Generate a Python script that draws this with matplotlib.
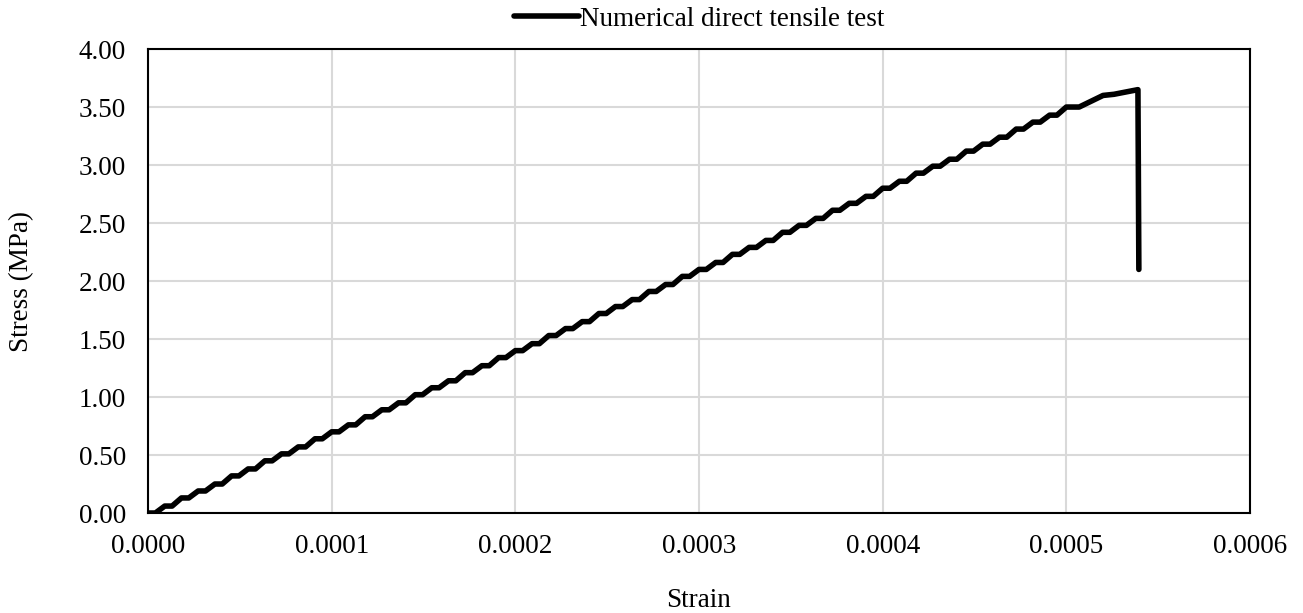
import numpy as np
import matplotlib
matplotlib.use('Agg')
import matplotlib.pyplot as plt

# strain in microstrain, stress in MPa (step corners)
strain_ue = [0.0, 4.0, 9.1, 13.1, 18.2, 22.2, 27.3, 31.3, 36.4, 40.4,
             45.5, 49.5, 54.5, 58.5, 63.6, 67.6, 72.7, 76.7, 81.8, 85.8,
             90.9, 94.9, 100.0, 104.0, 109.1, 113.1, 118.2, 122.2, 127.3, 131.3,
             136.4, 140.4, 145.5, 149.5, 154.5, 158.5, 163.6, 167.6, 172.7, 176.7,
             181.8, 185.8, 190.9, 194.9, 200.0, 204.0, 209.1, 213.1, 218.2, 222.2,
             227.3, 231.3, 236.4, 240.4, 245.5, 249.5, 254.5, 258.5, 263.6, 267.6,
             272.7, 276.7, 281.8, 285.8, 290.9, 294.9, 300.0, 304.0, 309.1, 313.1,
             318.2, 322.2, 327.3, 331.3, 336.4, 340.4, 345.5, 349.5, 354.5, 358.5,
             363.6, 367.6, 372.7, 376.7, 381.8, 385.8, 390.9, 394.9, 400.0, 404.0,
             409.1, 413.1, 418.2, 422.2, 427.3, 431.3, 436.4, 440.4, 445.5, 449.5,
             454.5, 458.5, 463.6, 467.6, 472.7, 476.7, 481.8, 485.8, 490.9, 494.9,
             500.0, 507.0, 520.0, 526.0, 539.0, 539.5]
stress = [0.00, 0.00, 0.06, 0.06, 0.13, 0.13, 0.19, 0.19, 0.25, 0.25,
          0.32, 0.32, 0.38, 0.38, 0.45, 0.45, 0.51, 0.51, 0.57, 0.57,
          0.64, 0.64, 0.70, 0.70, 0.76, 0.76, 0.83, 0.83, 0.89, 0.89,
          0.95, 0.95, 1.02, 1.02, 1.08, 1.08, 1.14, 1.14, 1.21, 1.21,
          1.27, 1.27, 1.34, 1.34, 1.40, 1.40, 1.46, 1.46, 1.53, 1.53,
          1.59, 1.59, 1.65, 1.65, 1.72, 1.72, 1.78, 1.78, 1.84, 1.84,
          1.91, 1.91, 1.97, 1.97, 2.04, 2.04, 2.10, 2.10, 2.16, 2.16,
          2.23, 2.23, 2.29, 2.29, 2.35, 2.35, 2.42, 2.42, 2.48, 2.48,
          2.54, 2.54, 2.61, 2.61, 2.67, 2.67, 2.73, 2.73, 2.80, 2.80,
          2.86, 2.86, 2.93, 2.93, 2.99, 2.99, 3.05, 3.05, 3.12, 3.12,
          3.18, 3.18, 3.24, 3.24, 3.31, 3.31, 3.37, 3.37, 3.43, 3.43,
          3.50, 3.50, 3.60, 3.61, 3.65, 2.10]

x_ticks = [0.0, 0.0001, 0.0002, 0.0003, 0.0004, 0.0005, 0.0006]
y_ticks = [0.0, 0.5, 1.0, 1.5, 2.0, 2.5, 3.0, 3.5, 4.0]

plt.rcParams['font.family'] = ['Liberation Serif', 'DejaVu Serif']
plt.rcParams['font.size'] = 19.5

fig = plt.figure(figsize=(13.03, 6.13), dpi=100)
ax = fig.add_axes([0.1136, 0.1631, 0.8457, 0.7569])

strain = np.array(strain_ue) / 1e6
ax.plot(strain, stress, color='black', lw=4, solid_joinstyle='round',
        solid_capstyle='round', label='Numerical direct tensile test')

ax.set_xlim(0, 0.0006)
ax.set_ylim(0, 4.0)
ax.set_xticks(x_ticks)
ax.set_yticks(y_ticks)
ax.set_xticklabels(['%.4f' % v for v in x_ticks])
ax.set_yticklabels(['%.2f' % v for v in y_ticks])
ax.tick_params(axis='y', length=0, pad=16)
ax.tick_params(axis='x', length=0, pad=15)
ax.grid(True, color='#d9d9d9', lw=1.5)
ax.set_axisbelow(True)
for s in ax.spines.values():
    s.set_linewidth(1.5)
    s.set_color('black')

ax.set_xlabel('Strain', labelpad=21)
ax.set_ylabel('Stress (MPa)', labelpad=32)

ax.legend(loc='center', bbox_to_anchor=(0.5, 1.064), frameon=False,
          handlelength=2.4, handletextpad=0.05, borderaxespad=0, borderpad=0)

plt.savefig('out.png', dpi=100)
